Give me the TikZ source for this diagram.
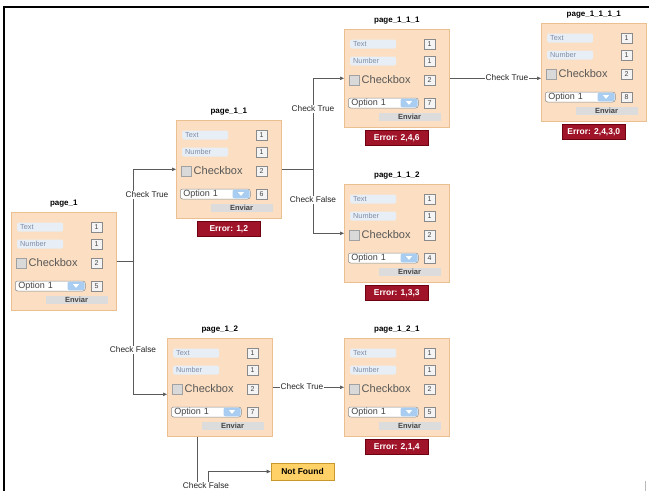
\documentclass[tikz,border=0pt]{standalone}
\usepackage{fontspec}
\setmainfont{Liberation Sans}
\usetikzlibrary{arrows.meta,calc}

\definecolor{peach}{HTML}{FCDFC2}
\definecolor{peachline}{HTML}{EBBF8F}
\definecolor{fieldbg}{HTML}{E8EEF6}
\definecolor{fieldtxt}{HTML}{7D8DA6}
\definecolor{numbg}{HTML}{F4F4F4}
\definecolor{numline}{HTML}{8A8A8A}
\definecolor{darktxt}{HTML}{444444}
\definecolor{btnblue}{HTML}{A8CDF0}
\definecolor{sendbg}{HTML}{DCDCDC}
\definecolor{errbg}{HTML}{A0142A}
\definecolor{errline}{HTML}{6F0010}
\definecolor{nfbg}{HTML}{FFD166}
\definecolor{nfline}{HTML}{C9972B}
\definecolor{wire}{HTML}{5A5A5A}

\tikzset{
  x=1pt, y=-1pt,
  formbox/.style={draw=peachline, fill=peach, line width=0.6pt, anchor=north west,
    minimum width=105pt, minimum height=98pt, inner sep=0pt},
  formtitle/.style={font=\bfseries\fontsize{8}{9}\selectfont, inner sep=0pt},
  field/.style={fill=fieldbg, rounded corners=1.5pt, anchor=west, minimum height=9pt,
    text width=40pt, inner xsep=3pt, inner ysep=0pt, align=left, text=fieldtxt,
    font=\fontsize{7.3}{8}\selectfont},
  numbox/.style={draw=numline, fill=numbg, line width=0.5pt, minimum width=10.5pt,
    minimum height=10pt, inner sep=0pt, text=darktxt, font=\fontsize{7}{8}\selectfont},
  chkbox/.style={draw=numline!80, fill=gray!30, line width=0.5pt, minimum size=10pt, inner sep=0pt},
  chklabel/.style={anchor=west, inner sep=0pt, text=darktxt!90, font=\fontsize{11}{12}\selectfont},
  dropbox/.style={draw=numline, fill=white, line width=0.5pt, rounded corners=2.5pt, anchor=west,
    minimum height=10pt, text width=64pt, inner xsep=3pt, inner ysep=0pt, align=left,
    text=darktxt, font=\fontsize{9}{10}\selectfont},
  dropbtn/.style={fill=btnblue, rounded corners=2pt, minimum width=17pt, minimum height=8.6pt, inner sep=0pt},
  sendbar/.style={fill=sendbg, minimum width=62pt, minimum height=8pt, inner sep=0pt,
    text=darktxt, font=\bfseries\fontsize{7.5}{8}\selectfont},
  errbox/.style={draw=errline, fill=errbg, minimum width=63pt, minimum height=15pt, inner sep=0pt,
    text=white, font=\bfseries\fontsize{8.5}{9}\selectfont},
  nfbox/.style={draw=nfline, fill=nfbg, line width=0.6pt, minimum width=63pt, minimum height=17pt,
    inner sep=0pt, font=\bfseries\fontsize{8.5}{9}\selectfont},
  conn/.style={draw=wire, line width=0.6pt},
  arr/.style={conn, -{Triangle[length=4pt,width=3.4pt]}},
  elabel/.style={fill=white, inner sep=1pt, font=\fontsize{8.3}{9}\selectfont, text=black!85},
}

% #1 node name, #2/#3 top-left corner, #4 title, #5 value beside the drop-down
\newcommand\pageform[5]{%
  \node[formbox] (#1) at (#2,#3) {};
  \node[formtitle] (#1-title) at ($(#1.north)+(0,-8)$) {#4};
  \node[field] (#1-text) at ($(#1.north west)+(6,15)$) {Text};
  \node[field] (#1-number) at ($(#1.north west)+(6,32)$) {Number};
  \node[numbox] (#1-v1) at ($(#1.north west)+(85.5,15)$) {1};
  \node[numbox] (#1-v2) at ($(#1.north west)+(85.5,32)$) {1};
  \node[chkbox] (#1-chk) at ($(#1.north west)+(10,51)$) {};
  \node[chklabel] (#1-chklbl) at ($(#1.north west)+(17.5,50.5)$) {Checkbox};
  \node[numbox] (#1-v3) at ($(#1.north west)+(85.5,51.5)$) {2};
  \node[dropbox] (#1-drop) at ($(#1.north west)+(4,74)$) {Option 1};
  \node[dropbtn] (#1-btn) at ($(#1.north west)+(65,74)$) {};
  \fill[white] ($(#1.north west)+(62,72.2)$) -- ++(6,0) -- ++(-3,3.6) -- cycle;
  \node[numbox] (#1-v4) at ($(#1.north west)+(85.5,74)$) {#5};
  \node[sendbar] (#1-send) at ($(#1.north west)+(65.5,87.5)$) {Enviar};
}

\begin{document}
\begin{tikzpicture}
  \useasboundingbox (0,0) rectangle (649,491);

  % outer frame
  \draw[line width=2pt] (4,491) -- (4,7) -- (649,7);
  \draw[gray!55, line width=1pt] (645,481) -- (645,491);

  % page forms
  \pageform{p1}{11}{212}{page\_1}{5}
  \pageform{p11}{176}{120}{page\_1\_1}{6}
  \pageform{p111}{344}{29}{page\_1\_1\_1}{7}
  \pageform{p1111}{541}{23}{page\_1\_1\_1\_1}{8}
  \pageform{p112}{344}{184}{page\_1\_1\_2}{4}
  \pageform{p12}{167}{338}{page\_1\_2}{7}
  \pageform{p121}{344}{338}{page\_1\_2\_1}{5}

  % error badges
  \node[errbox] (e11) at ($(p11.south)+(0,10.5)$) {Error: 1,2};
  \node[errbox] (e111) at ($(p111.south)+(0,10.5)$) {Error: 2,4,6};
  \node[errbox] (e1111) at ($(p1111.south)+(0,10.5)$) {Error: 2,4,3,0};
  \node[errbox] (e112) at ($(p112.south)+(0,10.5)$) {Error: 1,3,3};
  \node[errbox] (e121) at ($(p121.south)+(0,10.5)$) {Error: 2,1,4};

  \node[nfbox] (nf) at (302.5,471.5) {Not Found};

  % connectors
  \coordinate (j1) at ($(p1.east)+(17,0)$);
  \coordinate (j2) at ($(p11.east)+(32,0)$);
  \coordinate (in12) at ($(p12.west)+(0,7)$);
  \coordinate (b1) at ($(p12.south west)+(30,0)$);

  \draw[conn] (p1.east) -- (j1);
  \draw[arr] (j1) |- (p11.west);
  \draw[arr] (j1) |- (in12);
  \draw[conn] (p11.east) -- (j2);
  \draw[arr] (j2) |- (p111.west);
  \draw[arr] (j2) |- (p112.west);
  \draw[arr] (p111.east) -- (p111.east -| p1111.west);
  \draw[arr] (p12.east) -- (p121.west);
  \draw[arr] (b1) -- ++(0,51) -- ++(11,0) |- (nf.west);

  % connector labels
  \node[elabel] (l1) at (147,195) {Check True};
  \node[elabel] (l2) at (133,350) {Check False};
  \node[elabel] (l3) at (313,109) {Check True};
  \node[elabel] (l4) at (313,200) {Check False};
  \node[elabel] (l5) at (507,78) {Check True};
  \node[elabel] (l6) at (302,387) {Check True};
  \node[elabel] (l7) at (206,486) {Check False};
\end{tikzpicture}
\end{document}
